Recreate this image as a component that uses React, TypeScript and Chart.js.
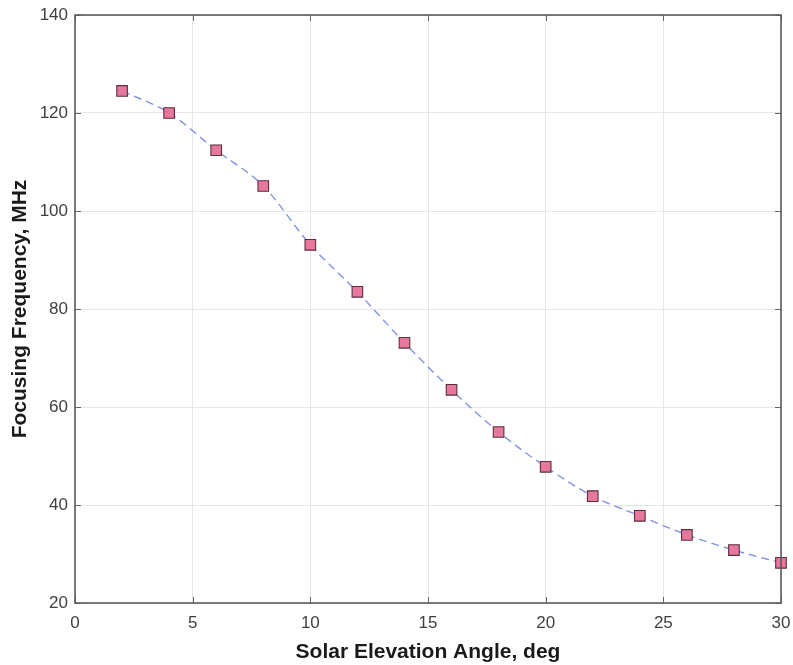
import React, { useEffect, useRef } from "react";
import { Chart, registerables } from "chart.js";

Chart.register(...registerables);

const angles = [2, 4, 6, 8, 10, 12, 14, 16, 18, 20, 22, 24, 26, 28, 30];
const frequencies = [124.5, 120, 112.4, 105.1, 93.1, 83.5, 73.1, 63.5, 54.9, 47.8, 41.8, 37.8, 33.9, 30.8, 28.2];
const xTicks = [0, 5, 10, 15, 20, 25, 30];
const yTicks = [20, 40, 60, 80, 100, 120, 140];

const FONT = "'Liberation Sans', Arial, sans-serif";

const boxPlugin = {
  id: "matlabBox",
  afterDatasetsDraw(chart: any) {
    const { ctx, chartArea: a, scales } = chart;
    const x = scales.x;
    const y = scales.y;
    ctx.save();
    ctx.strokeStyle = "#666666";
    ctx.lineWidth = 1;
    const t = 6;
    ctx.beginPath();
    xTicks.forEach((v) => {
      const px = Math.round(x.getPixelForValue(v)) + 0.5;
      ctx.moveTo(px, a.bottom);
      ctx.lineTo(px, a.bottom - t);
      ctx.moveTo(px, a.top);
      ctx.lineTo(px, a.top + t);
    });
    yTicks.forEach((v) => {
      const py = Math.round(y.getPixelForValue(v)) + 0.5;
      ctx.moveTo(a.left, py);
      ctx.lineTo(a.left + t, py);
      ctx.moveTo(a.right, py);
      ctx.lineTo(a.right - t, py);
    });
    ctx.stroke();
    ctx.lineWidth = 1.6;
    ctx.strokeStyle = "#5a5a5a";
    ctx.strokeRect(a.left, a.top, a.right - a.left, a.bottom - a.top);
    ctx.restore();
  },
};

export default function App() {
  const ref = useRef<HTMLCanvasElement>(null);
  useEffect(() => {
    if (!ref.current) return;
    const chart = new Chart(ref.current, {
      type: "line",
      data: {
        datasets: [
          {
            data: angles.map((a, i) => ({ x: a, y: frequencies[i] })),
            borderColor: "#8193e2",
            borderWidth: 1.4,
            borderDash: [8, 5],
            tension: 0.4,
            cubicInterpolationMode: "monotone",
            pointStyle: "rect",
            pointRadius: 7.5,
            pointBackgroundColor: "#e7779c",
            pointBorderColor: "#5a3040",
            pointBorderWidth: 1.1,
            fill: false,
            clip: false,
          },
        ],
      },
      options: {
        animation: false,
        responsive: false,
        events: [],
        layout: { padding: { top: 15, right: 12, left: 0, bottom: 0 } },
        plugins: { legend: { display: false }, tooltip: { enabled: false } },
        scales: {
          x: {
            type: "linear",
            min: 0,
            max: 30,
            afterBuildTicks: (s: any) => {
              s.ticks = xTicks.map((v) => ({ value: v }));
            },
            afterFit: (s: any) => {
              s.height = 62;
              s.paddingLeft = 0;
              s.paddingRight = 0;
            },
            border: { display: false },
            grid: { color: "#e6e6e6", lineWidth: 1, drawTicks: false },
            ticks: {
              color: "#404040",
              font: { family: FONT, size: 17 },
              padding: 10,
              maxRotation: 0,
            },
            title: {
              display: true,
              text: "Solar Elevation Angle, deg",
              color: "#1a1a1a",
              font: { family: FONT, size: 21, weight: "bold" },
              padding: { top: 3, bottom: 0 },
            },
          },
          y: {
            type: "linear",
            min: 20,
            max: 140,
            afterBuildTicks: (s: any) => {
              s.ticks = yTicks.map((v) => ({ value: v }));
            },
            afterFit: (s: any) => {
              s.width = 75;
              s.paddingTop = 0;
              s.paddingBottom = 0;
            },
            border: { display: false },
            grid: { color: "#e6e6e6", lineWidth: 1, drawTicks: false },
            ticks: {
              color: "#404040",
              font: { family: FONT, size: 17 },
              padding: 7,
            },
            title: {
              display: true,
              text: "Focusing Frequency, MHz",
              color: "#1a1a1a",
              font: { family: FONT, size: 21, weight: "bold" },
              padding: { top: 8, bottom: 0 },
            },
          },
        },
      },
      plugins: [boxPlugin],
    } as any);
    return () => chart.destroy();
  }, []);
  return (
    <div style={{ position: "fixed", left: 0, top: 0, width: 793, height: 665, background: "#fff" }}>
      <canvas ref={ref} width={793} height={665} />
    </div>
  );
}
